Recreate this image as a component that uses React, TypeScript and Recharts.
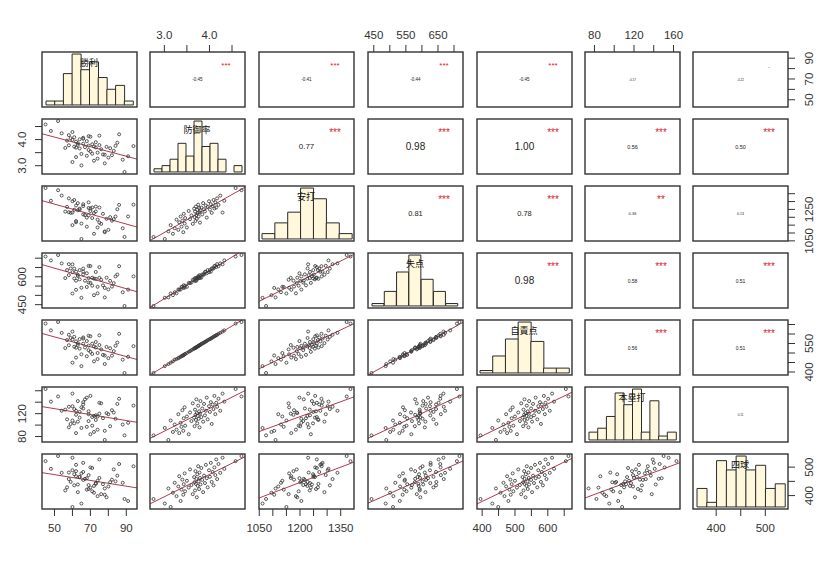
import React from 'react';
import { ScatterChart, Scatter, XAxis, YAxis, ReferenceLine, BarChart, Bar } from 'recharts';

// ---- data (one row per team-season) ----
const varNames = ['勝利', '防御率', '安打', '失点', '自責点', '本塁打', '四球'];

const wins = [89, 65, 78, 60, 72, 88, 74, 80, 62, 91, 68, 82, 78, 77, 65, 71, 74, 70, 83, 69, 76, 64, 81, 56, 62, 73, 67, 79, 61, 72, 94, 84, 69, 58, 75, 63, 71, 66, 63, 85, 73, 62, 68, 57, 60, 64, 66, 59, 66, 61, 70, 69, 75, 58, 86, 54, 60, 48, 45, 52];
const era = [2.76, 3.01, 3.09, 3.14, 3.19, 3.23, 3.27, 3.31, 3.33, 3.36, 3.38, 3.40, 3.42, 3.43, 3.45, 3.46, 3.50, 3.54, 3.57, 3.60, 3.63, 3.66, 3.67, 3.68, 3.69, 3.70, 3.71, 3.72, 3.73, 3.74, 3.75, 3.76, 3.77, 3.78, 3.79, 3.80, 3.82, 3.84, 3.86, 3.88, 3.90, 3.92, 3.94, 3.96, 3.99, 4.01, 4.03, 4.05, 4.07, 4.09, 4.11, 4.13, 4.15, 4.17, 4.20, 4.24, 4.29, 4.33, 4.58, 4.71];
const hits = [1075, 1062, 1110, 1150, 1095, 1130, 1185, 1120, 1168, 1205, 1140, 1178, 1105, 1222, 1160, 1195, 1135, 1240, 1188, 1212, 1158, 1255, 1201, 1236, 1176, 1268, 1214, 1190, 1248, 1227, 1280, 1205, 1259, 1232, 1166, 1244, 1262, 1218, 1290, 1251, 1237, 1275, 1198, 1266, 1302, 1249, 1283, 1228, 1271, 1310, 1256, 1295, 1262, 1320, 1279, 1338, 1230, 1305, 1386, 1372];
const runs = [443, 487, 489, 510, 501, 517, 511, 532, 530, 531, 545, 547, 540, 554, 541, 552, 546, 567, 566, 569, 584, 586, 578, 593, 579, 589, 579, 595, 591, 590, 602, 602, 593, 609, 594, 604, 595, 613, 611, 612, 626, 627, 619, 636, 625, 636, 627, 645, 644, 644, 658, 659, 652, 668, 657, 672, 667, 688, 709, 717];
const earnedRuns = [395, 431, 442, 449, 456, 465, 468, 473, 476, 480, 483, 486, 487, 490, 493, 495, 500, 506, 510, 515, 519, 523, 525, 526, 528, 529, 529, 532, 533, 535, 536, 538, 539, 541, 542, 543, 549, 549, 552, 555, 558, 561, 563, 568, 571, 573, 576, 579, 582, 585, 588, 591, 593, 596, 601, 606, 613, 619, 655, 663];
const homeRuns = [82, 95, 74, 108, 88, 101, 92, 119, 86, 104, 97, 126, 90, 112, 131, 99, 115, 84, 122, 107, 138, 113, 98, 127, 118, 109, 145, 121, 103, 116, 134, 111, 124, 96, 120, 142, 114, 129, 106, 137, 117, 125, 148, 110, 133, 123, 140, 102, 136, 128, 151, 119, 139, 132, 146, 125, 155, 141, 163, 150];
const walks = [388, 372, 425, 360, 410, 445, 398, 432, 468, 381, 421, 456, 403, 440, 478, 415, 452, 428, 492, 437, 405, 465, 447, 418, 486, 441, 459, 394, 475, 434, 503, 450, 423, 481, 462, 439, 497, 455, 412, 470, 444, 508, 461, 429, 489, 466, 515, 448, 483, 436, 499, 472, 527, 458, 511, 480, 533, 494, 521, 539];

const columns = [wins, era, hits, runs, earnedRuns, homeRuns, walks];

// histogram bin counts
const histWins = [1, 1, 8, 13, 9, 11, 7, 4, 5, 1];
const histEra = [1, 2, 4, 9, 5, 16, 8, 9, 4, 0, 2];
const histHits = [2, 6, 10, 19, 15, 6, 2];
const histRuns = [1, 6, 14, 21, 11, 6, 1];
const histEarned = [1, 7, 14, 21, 13, 2, 2];
const histHomeRuns = [2, 3, 6, 12, 9, 13, 2, 10, 1, 2];
const histWalks = [4, 1, 10, 8, 11, 8, 9, 4, 5];
const histCounts = [histWins, histEra, histHits, histRuns, histEarned, histHomeRuns, histWalks];

// axis ticks and their labels
const axisTicks = [
  [50, 60, 70, 80, 90],
  [3.0, 3.5, 4.0, 4.5],
  [1050, 1100, 1150, 1200, 1250, 1300, 1350],
  [450, 500, 550, 600, 650, 700],
  [400, 450, 500, 550, 600, 650],
  [80, 100, 120, 140, 160],
  [400, 450, 500],
];
const xTickLabels = [
  ['50', '', '70', '', '90'],
  ['3.0', '', '4.0', ''],
  ['1050', '', '', '1200', '', '', '1350'],
  ['450', '', '550', '', '650', ''],
  ['400', '', '500', '', '600', ''],
  ['80', '', '120', '', '160'],
  ['400', '', '500'],
];
const yTickLabels = [
  ['50', '', '70', '', '90'],
  ['3.0', '', '4.0', ''],
  ['1050', '', '', '', '1250', '', ''],
  ['450', '', '', '600', '', ''],
  ['400', '', '', '550', '', ''],
  ['80', '', '120', '', ''],
  ['400', '', '500'],
];

// upper triangle: correlation text, text size, significance stars
const corrText = [
  ['-0.45', '-0.41', '-0.44', '-0.45', '-0.17', '-0.22'],
  ['0.77', '0.98', '1.00', '0.56', '0.50'],
  ['0.81', '0.78', '0.36', '0.13'],
  ['0.98', '0.58', '0.51'],
  ['0.56', '0.51'],
  ['0.11'],
];
const corrSize = [
  [4.5, 4.5, 4.5, 4.5, 3, 3],
  [8, 10, 10, 5.5, 5.5],
  [7.5, 7.5, 4, 3.5],
  [10, 5, 5],
  [5, 5],
  [3],
];
const corrStars = [
  ['***', '***', '***', '***', '', '.'],
  ['***', '***', '***', '***', '***'],
  ['***', '***', '**', ''],
  ['***', '***', '***'],
  ['***', '***'],
  [''],
];

// ---- layout ----
const PW = 95;
const PH = 55;
const colLeft = [42, 150, 259, 368, 477, 585, 693];
const rowTop = [52, 119, 186, 253, 320, 387, 454];
const AX = 30;
const EX = 16;
const histPad = [[4, 4], [4, 3], [3, 2], [4, 5], [3, 3], [4, 4], [4, 3]];
const FONT = '"Liberation Sans", Arial, sans-serif';
const CJK = '"Noto Sans CJK JP", "Noto Sans CJK SC", sans-serif';

function domainOf(arr: number[]): [number, number] {
  const lo = Math.min(...arr);
  const hi = Math.max(...arr);
  const p = (hi - lo) * 0.04;
  return [lo - p, hi + p];
}

function fit(xs: number[], ys: number[]) {
  const n = xs.length;
  const mx = xs.reduce((a, b) => a + b, 0) / n;
  const my = ys.reduce((a, b) => a + b, 0) / n;
  let sxy = 0;
  let sxx = 0;
  for (let k = 0; k < n; k++) {
    sxy += (xs[k] - mx) * (ys[k] - my);
    sxx += (xs[k] - mx) * (xs[k] - mx);
  }
  const b = sxy / sxx;
  return { a: my - b * mx, b };
}

function makeTick(side: string, ticks: number[], labels: string[]) {
  return (props: any) => {
    const { x, y, payload } = props;
    const idx = ticks.findIndex((t) => Math.abs(t - payload.value) < 1e-9);
    const label = idx >= 0 ? labels[idx] : '';
    if (!label) return <g />;
    const common = { fontSize: 11.5, fill: '#333', fontFamily: FONT, textAnchor: 'middle' as const };
    if (side === 'top') return <text x={x} y={y - 6.5} {...common}>{label}</text>;
    if (side === 'bottom') return <text x={x} y={y + 16} {...common}>{label}</text>;
    if (side === 'left') {
      const tx = x - 9;
      return <text x={tx} y={y} transform={`rotate(-90 ${tx} ${y})`} {...common}>{label}</text>;
    }
    const tx = x + 18;
    return <text x={tx} y={y} transform={`rotate(-90 ${tx} ${y})`} {...common}>{label}</text>;
  };
}

const dotShape = (p: any) => (
  <circle cx={p.cx} cy={p.cy} r={1.5} fill="none" stroke="#3a3a3a" strokeWidth={0.85} />
);

function Panel({ i, j }: { i: number; j: number }) {
  const showTop = i === 0 && j % 2 === 1;
  const showBottom = i === 6 && j % 2 === 0;
  const showLeft = j === 0 && i % 2 === 1;
  const showRight = j === 6 && i % 2 === 0;
  const w = PW + (showLeft ? AX : 0) + (showRight ? AX : 0) + 2 * EX;
  const h = PH + (showTop ? AX : 0) + (showBottom ? AX : 0) + 2 * EX;
  const left = colLeft[j] - (showLeft ? AX : 0) - EX;
  const top = rowTop[i] - (showTop ? AX : 0) - EX;
  const xd = domainOf(columns[j]);
  const yd = domainOf(columns[i]);
  const isLower = i > j;
  const data = isLower ? columns[j].map((x, k) => ({ x, y: columns[i][k] })) : [];
  let seg: any = null;
  if (isLower) {
    const f = fit(columns[j], columns[i]);
    seg = [
      { x: xd[0], y: f.a + f.b * xd[0] },
      { x: xd[1], y: f.a + f.b * xd[1] },
    ];
  }
  const xSide = showTop ? 'top' : 'bottom';
  const ySide = showRight ? 'right' : 'left';
  return (
    <div style={{ position: 'absolute', left, top, width: w, height: h }}>
      <ScatterChart width={w} height={h} margin={{ top: EX, right: EX, bottom: EX, left: EX }}>
        <XAxis
          type="number"
          dataKey="x"
          domain={xd}
          allowDataOverflow
          orientation={showTop ? 'top' : 'bottom'}
          hide={!(showTop || showBottom)}
          height={AX}
          ticks={axisTicks[j]}
          interval={0}
          tickSize={7}
          tickMargin={0}
          axisLine={false}
          tickLine={{ stroke: '#333' }}
          tick={makeTick(xSide, axisTicks[j], xTickLabels[j])}
        />
        <YAxis
          type="number"
          dataKey="y"
          domain={yd}
          allowDataOverflow
          orientation={showRight ? 'right' : 'left'}
          hide={!(showLeft || showRight)}
          width={AX}
          ticks={axisTicks[i]}
          interval={0}
          tickSize={7}
          tickMargin={0}
          axisLine={false}
          tickLine={{ stroke: '#333' }}
          tick={makeTick(ySide, axisTicks[i], yTickLabels[i])}
        />
        {isLower && (
          <ReferenceLine segment={seg} stroke="#b23b4c" strokeWidth={1} ifOverflow="hidden" />
        )}
        <Scatter data={data} shape={dotShape} isAnimationActive={false} />
      </ScatterChart>
    </div>
  );
}

function Hist({ v }: { v: number }) {
  const counts = histCounts[v];
  const m = Math.max(...counts);
  const data = counts.map((c, k) => ({ bin: k, count: c }));
  return (
    <div style={{ position: 'absolute', left: colLeft[v], top: rowTop[v], width: PW, height: PH }}>
      <BarChart
        width={PW}
        height={PH}
        data={data}
        margin={{ top: 0, bottom: 0, left: histPad[v][0], right: histPad[v][1] }}
        barCategoryGap={0}
        barGap={0}
      >
        <XAxis dataKey="bin" hide />
        <YAxis hide domain={[-0.04 * m, 1.04 * m]} allowDataOverflow />
        <Bar dataKey="count" fill="#FFF8DC" stroke="#2a2a2a" strokeWidth={1} isAnimationActive={false} />
      </BarChart>
    </div>
  );
}

export default function App() {
  const idx = [0, 1, 2, 3, 4, 5, 6];
  return (
    <div style={{ position: 'absolute', left: 0, top: 0, width: 819, height: 561, background: '#fff', overflow: 'hidden' }}>
      {idx.map((i) => idx.map((j) => <Panel key={`p${i}-${j}`} i={i} j={j} />))}
      {idx.map((v) => <Hist key={`h${v}`} v={v} />)}
      <svg width={819} height={561} style={{ position: 'absolute', left: 0, top: 0, pointerEvents: 'none' }}>
        {idx.map((i) =>
          idx.map((j) => (
            <rect key={`b${i}-${j}`} x={colLeft[j]} y={rowTop[i]} width={PW} height={PH} fill="none" stroke="#333" strokeWidth={1.4} />
          ))
        )}
        {idx.map((v) => (
          <text key={`n${v}`} x={colLeft[v] + 47} y={rowTop[v] + 10} textAnchor="middle" dominantBaseline="central" fontSize={9} fontFamily={CJK} fill="#111">
            {varNames[v]}
          </text>
        ))}
        {corrText.map((row, i) =>
          row.map((t, k) => {
            const j = i + 1 + k;
            return (
              <g key={`c${i}-${j}`}>
                <text x={colLeft[j] + PW / 2} y={rowTop[i] + PH / 2} textAnchor="middle" dominantBaseline="central" fontSize={corrSize[i][k]} fontFamily={FONT} fill="#222">
                  {t}
                </text>
                {corrStars[i][k] && (
                  <text x={colLeft[j] + 76} y={rowTop[i] + (i === 0 ? 16 : 17)} textAnchor="middle" fontSize={i === 0 ? 8 : 10} fontFamily={FONT} fill="#e0202a">
                    {corrStars[i][k]}
                  </text>
                )}
              </g>
            );
          })
        )}
      </svg>
    </div>
  );
}
